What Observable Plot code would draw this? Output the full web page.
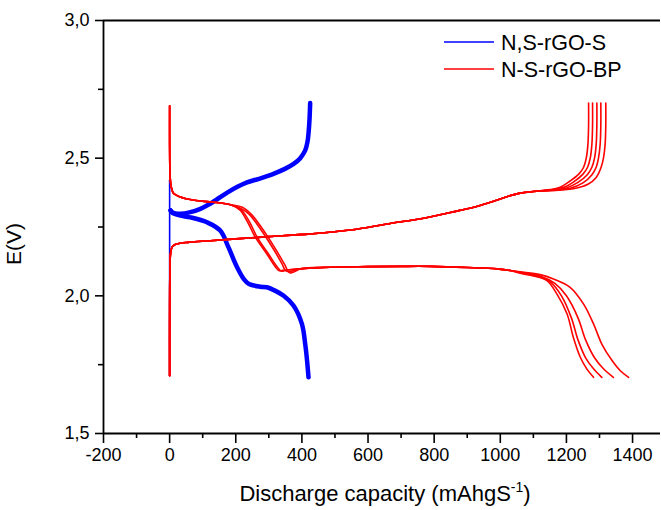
<!DOCTYPE html>
<html><head><meta charset="utf-8">
<script src="https://cdn.jsdelivr.net/npm/d3@7"></script>
<script src="https://cdn.jsdelivr.net/npm/@observablehq/plot@0.6"></script>
<style>body{margin:0;background:#fff;} #chart{position:relative;width:661px;height:510px;}</style>
</head><body><div id="chart"></div>
<script>
const seriesNames = ["N,S-rGO-S", "N-S-rGO-BP"];
const seriesColors = ["#0000ff", "#ff0000"];
const xTicks = [-200, 0, 200, 400, 600, 800, 1000, 1200, 1400];
const xMinorTicks = [-100, 100, 300, 500, 700, 900, 1100, 1300];
const yTicks = [1.5, 2.0, 2.5, 3.0];
const yMinorTicks = [1.75, 2.25, 2.75];
const xTitle = "Discharge capacity (mAhgS";
const xTitleSup = "-1";
const yTitle = "E(V)";

// N,S-rGO-S (blue)
const blueJump = [[0, 2.42], [0, 1.71]];
const blueCharge = [[3, 2.31], [10, 2.302], [18, 2.299], [32, 2.298], [60, 2.303], [93, 2.316], [130, 2.34], [173, 2.374], [205, 2.396], [234, 2.412], [270, 2.425], [314, 2.443], [350, 2.462], [375, 2.479], [395, 2.5], [410, 2.528], [417, 2.56], [420, 2.59], [423, 2.64], [425, 2.7]];
const blueDischarge = [[3, 2.31], [8, 2.302], [30, 2.292], [63, 2.285], [113, 2.267], [153, 2.237], [178, 2.176], [204, 2.104], [225, 2.06], [240, 2.043], [274, 2.033], [294, 2.031], [320, 2.018], [345, 2.0], [375, 1.964], [400, 1.898], [410, 1.825], [416, 1.76], [420, 1.704]];

// N-S-rGO-BP (red) discharge
const redDisHead = [[0, 2.69], [0, 2.55], [1, 2.45], [3, 2.41], [7, 2.385], [12, 2.372], [30, 2.36], [53, 2.352], [113, 2.342], [150, 2.338], [184, 2.331]];
const redDisMidA = [[200, 2.322], [214, 2.31], [235, 2.27], [259, 2.213], [294, 2.152], [320, 2.105], [330, 2.092], [345, 2.093]];
const redDisMidB = [[205, 2.322], [220, 2.308], [242, 2.268], [266, 2.21], [300, 2.15], [326, 2.104], [337, 2.09], [355, 2.094]];
const redDisMidC = [[214, 2.318], [240, 2.297], [264, 2.261], [304, 2.189], [340, 2.116], [350, 2.092], [360, 2.088]];
const redDisMidD = [[220, 2.322], [248, 2.295], [272, 2.258], [312, 2.186], [348, 2.113], [358, 2.09], [365, 2.083], [378, 2.088]];
const redDisPlateau = [[395, 2.098], [486, 2.104], [600, 2.106], [700, 2.107], [788, 2.107], [900, 2.103], [990, 2.098], [1030, 2.092]];
const redDisTail1 = [[1060, 2.082], [1100, 2.072], [1141, 2.055], [1171, 2.007], [1202, 1.934], [1221, 1.849], [1242, 1.777], [1262, 1.734], [1282, 1.704]];
const redDisTail2 = [[1060, 2.084], [1110, 2.072], [1150, 2.052], [1185, 2.0], [1215, 1.92], [1235, 1.84], [1258, 1.775], [1282, 1.735], [1307, 1.704]];
const redDisTail3 = [[1060, 2.085], [1120, 2.072], [1165, 2.045], [1200, 2.0], [1235, 1.92], [1258, 1.84], [1285, 1.775], [1312, 1.735], [1342, 1.704]];
const redDisTail4 = [[1060, 2.087], [1120, 2.077], [1161, 2.061], [1211, 2.031], [1252, 1.97], [1282, 1.898], [1307, 1.825], [1338, 1.765], [1363, 1.728], [1388, 1.704]];

// N-S-rGO-BP (red) charge
const redChgHead = [[0, 1.71], [0, 1.9], [1, 2.1], [3, 2.155], [8, 2.178], [20, 2.188], [60, 2.195], [123, 2.2], [200, 2.207], [300, 2.215], [426, 2.225], [546, 2.239], [667, 2.263], [760, 2.28], [849, 2.303], [920, 2.322], [970, 2.34], [1020, 2.36], [1060, 2.373], [1100, 2.379]];
const redChgTail1 = [[1151, 2.386], [1181, 2.394], [1211, 2.417], [1238, 2.443], [1252, 2.467], [1260, 2.5], [1265, 2.55], [1267, 2.62], [1267, 2.7]];
const redChgTail2 = [[1151, 2.385], [1190, 2.393], [1222, 2.414], [1250, 2.442], [1264, 2.467], [1272, 2.5], [1277, 2.55], [1279, 2.62], [1279, 2.7]];
const redChgTail3 = [[1151, 2.384], [1200, 2.392], [1235, 2.412], [1263, 2.44], [1277, 2.467], [1285, 2.5], [1290, 2.55], [1292, 2.62], [1292, 2.7]];
const redChgTail4 = [[1151, 2.383], [1212, 2.391], [1250, 2.41], [1276, 2.438], [1290, 2.467], [1297, 2.5], [1302, 2.55], [1304, 2.62], [1304, 2.7]];
const redChgTail5 = [[1151, 2.382], [1225, 2.39], [1265, 2.405], [1290, 2.43], [1305, 2.467], [1312, 2.5], [1317, 2.55], [1319, 2.62], [1319, 2.7]];

const rows = (pts, id) => pts.map(([x, y]) => ({x, y, id}));
const blueThin = rows(blueJump, "bj");
const blueThick = [...rows(blueCharge, "bc"), ...rows(blueDischarge, "bd")];
const redDis = [
  [redDisMidA, redDisTail1], [redDisMidB, redDisTail2], [redDisMidC, redDisTail3], [redDisMidD, redDisTail4]
].flatMap(([mid, tail], i) => rows([...redDisHead, ...mid, ...redDisPlateau, ...tail], "rd" + i));
const redChg = [redChgTail1, redChgTail2, redChgTail3, redChgTail4, redChgTail5]
  .flatMap((tail, i) => rows([...redChgHead, ...tail], "rc" + i));

const font = "'Liberation Sans', Arial, Helvetica, sans-serif";
const fmtY = d => d.toFixed(1).replace(".", ",");
const fmtX = d => String(d);

const chart = Plot.plot({
  width: 661, height: 510,
  marginLeft: 103, marginRight: 1, marginTop: 20, marginBottom: 77,
  x: {domain: [-200, 1484.5]},
  y: {domain: [1.5, 3.0]},
  style: {fontFamily: font, fontSize: "18px", color: "#000", background: "#fff"},
  marks: [
    Plot.axisX(xTicks, {tickSize: 10, tickPadding: 5, strokeWidth: 1.6, tickFormat: fmtX, label: null, fontSize: 18}),
    Plot.axisX(xMinorTicks, {tickSize: 5, strokeWidth: 1.6, tickFormat: () => "", label: null}),
    Plot.axisY(yTicks, {tickSize: 8, tickPadding: 6, strokeWidth: 1.6, tickFormat: fmtY, label: null, fontSize: 18}),
    Plot.axisY(yMinorTicks, {tickSize: 5, strokeWidth: 1.6, tickFormat: () => "", label: null}),
    Plot.ruleY([1.5, 3.0], {stroke: "#000", strokeWidth: 1.8}),
    Plot.ruleX([-200], {stroke: "#000", strokeWidth: 1.8}),
    Plot.line(blueThin, {x: "x", y: "y", z: "id", stroke: seriesColors[0], strokeWidth: 1.6}),
    Plot.line(blueThick, {x: "x", y: "y", z: "id", stroke: seriesColors[0], strokeWidth: 4.5, curve: "catmull-rom"}),
    Plot.line(redDis, {x: "x", y: "y", z: "id", stroke: seriesColors[1], strokeWidth: 1.6, curve: "catmull-rom"}),
    Plot.line(redChg, {x: "x", y: "y", z: "id", stroke: seriesColors[1], strokeWidth: 1.6, curve: "catmull-rom"})
  ]
});
document.getElementById("chart").appendChild(chart);

const svg = d3.select(chart);
// axis titles
const xt = svg.append("text").attr("x", 385).attr("y", 501).attr("text-anchor", "middle")
  .attr("font-family", font).attr("font-size", 22).attr("fill", "#000");
xt.append("tspan").text(xTitle);
xt.append("tspan").attr("font-size", 14).attr("dy", -9).text(xTitleSup);
xt.append("tspan").attr("dy", 9).text(")");
svg.append("text").attr("transform", "translate(21,244) rotate(-90)").attr("text-anchor", "middle")
  .attr("font-family", font).attr("font-size", 21).attr("fill", "#000").text(yTitle);

// legend
const lg = svg.append("g").attr("font-family", font).attr("font-size", 21.5).attr("fill", "#000").attr("text-anchor", "start");
seriesNames.forEach((name, i) => {
  const y = 42 + i * 27;
  lg.append("line").attr("x1", 444).attr("x2", 494).attr("y1", y).attr("y2", y)
    .attr("stroke", seriesColors[i]).attr("stroke-width", 1.6);
  lg.append("text").attr("x", 501).attr("y", y + 7.5).attr("text-anchor", "start").text(name);
});
</script>
</body></html>
